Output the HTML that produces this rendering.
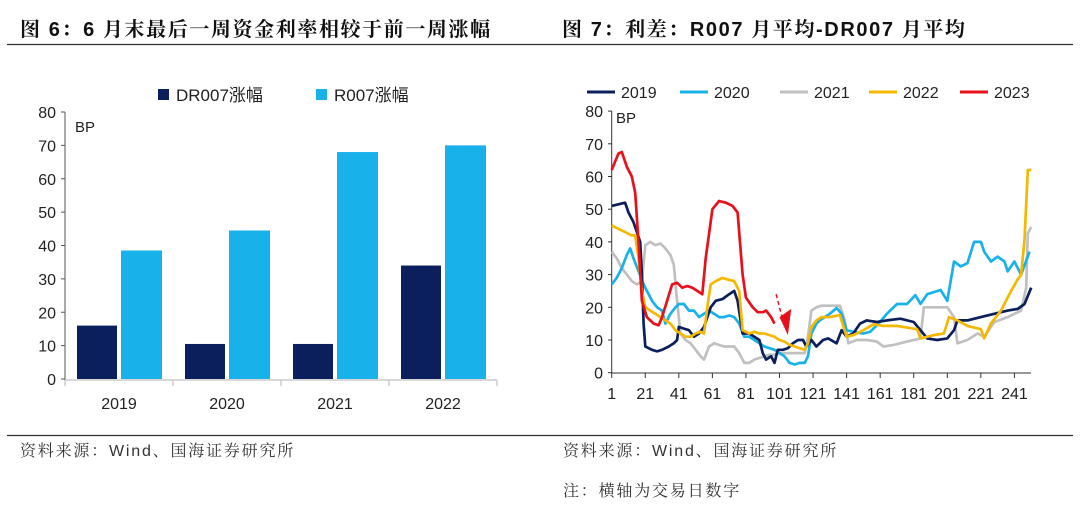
<!DOCTYPE html>
<html><head><meta charset="utf-8">
<style>
body{margin:0;width:1080px;height:506px;background:#fff;overflow:hidden;font-family:"Liberation Sans","Noto Sans CJK SC",sans-serif;}
svg text{font-family:"Liberation Sans","Noto Sans CJK SC",sans-serif;}
svg text.ttl{font-family:"Liberation Sans","Noto Serif CJK SC",serif;font-weight:bold;letter-spacing:1.6px;}
svg text.ft{font-family:"Liberation Sans","Noto Serif CJK SC",serif;letter-spacing:1.8px;}
</style></head>
<body>
<svg id="s" width="1080" height="506" xmlns="http://www.w3.org/2000/svg">
<text class="ttl" x="20" y="36" font-size="20" fill="#111">图 6：6 月末最后一周资金利率相较于前一周涨幅</text>
<text class="ttl" x="562" y="36" font-size="20" fill="#111">图 7：利差：R007 月平均-DR007 月平均</text>
<line x1="7" y1="44.5" x2="1073" y2="44.5" stroke="#333" stroke-width="1.3"/>
<line x1="7" y1="435.5" x2="1073" y2="435.5" stroke="#333" stroke-width="1.3"/>
<text class="ft" x="20" y="456" font-size="16" fill="#333">资料来源：Wind、国海证券研究所</text>
<text class="ft" x="563" y="456" font-size="16" fill="#333">资料来源：Wind、国海证券研究所</text>
<text class="ft" x="563" y="496" font-size="16" fill="#333">注：横轴为交易日数字</text>
<g id="left"></g>
<g id="right"></g>
</svg>
<script>
const NS="http://www.w3.org/2000/svg";
function mk(p,t,a){const e=document.createElementNS(NS,t);for(const k in a)e.setAttribute(k,a[k]);p.appendChild(e);return e;}

// ---- Left bar chart data ----
const barCategories=["2019","2020","2021","2022"];
const drValues=[16,10.5,10.5,34];
const rValues=[38.5,44.5,68,70];
const leftTicks=[0,10,20,30,40,50,60,70,80];

const L=document.getElementById('left');
const ly=v=>379-v*(267/80);
const lx0=65,cw=108;
leftTicks.forEach(t=>{
  const tx=mk(L,'text',{x:56,y:ly(t)+6,'font-size':16,'text-anchor':'end',fill:'#222'});tx.textContent=t;
  
  
  mk(L,'line',{x1:61,x2:65,y1:ly(t),y2:ly(t),stroke:'#555'});
});
const lax=mk(L,'line',{x1:65,x2:65,y1:ly(80),y2:380,stroke:'#555'});


const lxa=mk(L,'line',{x1:65,x2:497,y1:380,y2:380,stroke:'#ccc','stroke-width':1.5});


const bp=mk(L,'text',{x:75,y:132,'font-size':15,fill:'#222'});bp.textContent='BP';


barCategories.forEach((c,i)=>{
  const x=lx0+i*cw;
  mk(L,'line',{x1:x,x2:x,y1:380,y2:386,stroke:'#ccc','stroke-width':1.5});
  const b1=mk(L,'rect',{x:x+12,y:ly(drValues[i]),width:40,height:379-ly(drValues[i]),fill:'#0b1f5c'});
  
  
  const b2=mk(L,'rect',{x:x+56,y:ly(rValues[i]),width:41,height:379-ly(rValues[i]),fill:'#19b1ea'});
  
  
  const t=mk(L,'text',{x:x+cw/2,y:409,'font-size':16,'text-anchor':'middle',fill:'#222'});t.textContent=c;
  
  
});
mk(L,'line',{x1:497,x2:497,y1:380,y2:386,stroke:'#ccc','stroke-width':1.5});
[[158,'#0b1f5c','DR007涨幅'],[316,'#19b1ea','R007涨幅']].forEach(([x,c,s])=>{
  const g=mk(L,'g',{});
  
  
  mk(g,'rect',{x:x,y:89,width:11,height:11,fill:c});
  const t=mk(g,'text',{x:x+18,y:101,'font-size':17,fill:'#222'});t.textContent=s;
});

// ---- Right line chart data ----
const xTicks=[1,21,41,61,81,101,121,141,161,181,201,221,241];
const yTicks=[0,10,20,30,40,50,60,70,80];
const d2019=[1,5,9,11,14,16,18,19,20,21,25,28,31,35,38,40,41,44,47,50,53,56,60,63,67,71,74,76,79,83,86,89,91,93,96,98,100,103,106,109,112,115,117,120,123,127,130,135,138,141,145,149,153,159,165,173,181,185,189,195,201,205,207,213,221,229,237,243,247,251];
const v2019=[51,51.5,52,49,46,43,40,30,15,8,7,6.5,7,8,9,10,14,13.5,13,11,12,14,20,22,22.5,24,25,22,12,12,11,10,6,4,5,3,7,7,7.5,9,10,10,8,10,8,10,10.5,9,13,11,12,15,16,15.5,16,16.5,15.5,13,10.5,10,10.5,13,16,16,17,18,19,19.5,21,26];
const d2020=[1,4,7,10,12,14,17,20,22,25,28,31,33,36,39,41,44,47,50,53,56,59,62,65,68,71,74,77,80,83,86,89,92,95,98,101,104,107,110,113,116,118,120,123,125,131,135,138,141,145,151,155,160,165,171,177,182,185,189,197,201,205,209,213,217,221,223,227,231,235,237,241,245,250];
const v2020=[27,29,32,36,38,35,31,27,25,22,20,19,15,18,20,21,21,19,19,17,18,19,18,17,17,17.5,17,15,11,11,10,9,8,7.5,7,6,5,3,2.5,3,3,5,12,15,16,18,19.8,18,13,12.5,12,12.5,15,18,21,21,23.7,21,24,25.3,22,34,32.5,33.5,40,40,37,34,35.5,34,31,34,30,37];
const d2021=[1,4,7,10,13,16,19,21,24,27,30,33,36,38,40,42,45,48,51,54,56,59,62,65,68,71,74,77,80,83,86,89,92,95,98,101,104,107,110,113,116,118,120,123,126,137,140,142,147,153,159,163,169,177,185,187,193,201,205,207,213,219,223,229,237,245,248,249,251];
const v2021=[37,35,32,30,28,27,28,39,40,39,39.5,38,36,33,22,12,10,9,7,5,4,8,9,8.5,8,8,8,6,3,3,4,4.5,5,5.5,5.5,6,6,6,6,6,6,11,19,20,20.5,20.5,16,9,10,10,9.5,8,8.5,9.5,10.5,20,20,20,17,9,10,12,11,15.5,17,19,26,42.6,44.6];
const d2022=[1,5,9,13,15,17,19,21,24,27,30,33,36,39,42,45,48,51,54,56,58,60,63,67,70,74,77,79,83,86,89,92,95,98,101,104,107,110,113,116,118,120,123,126,131,137,141,145,151,157,163,171,177,183,185,193,199,202,207,213,221,223,227,233,239,243,245,247,249,251];
const v2022=[45,44,43,42,42,35,25,20,19,18,17,16,15,13,12,11,11,12,12.5,12,20,27,28,29,28.5,28,25,13,12,12.5,12,12,11.5,11,10,9.5,8.5,8,7.5,7,9,14,16,17,17,17.6,11,11.5,13,14.8,14.3,14.3,13.8,13.3,10.5,11.5,12,17,16,14.3,13.3,10.5,15,19,25,28.6,29.9,40.6,62,62];
const d2023=[1,5,7,10,13,15,17,19,22,26,29,31,34,37,40,43,46,49,52,55,57,61,65,69,73,76,79,81,85,88,91,93,96,98];
const v2023=[62,67,67.5,63,60,55,40,22,17,15,14.5,17,22,27,27.5,26,26.5,26,25,24,35,50,52.5,52,51,49,30,23,20,18.5,18.5,19,17,15];

const R=document.getElementById('right');
const rx=d=>611.7+(d-1)*1.678;
const ry=v=>372.7-v*3.27;
yTicks.forEach(t=>{
  const tx=mk(R,'text',{x:603,y:ry(t)+6,'font-size':16,'text-anchor':'end',fill:'#222'});tx.textContent=t;
  
  
  mk(R,'line',{x1:608,x2:612,y1:ry(t),y2:ry(t),stroke:'#333'});
});
xTicks.forEach(t=>{
  mk(R,'line',{x1:rx(t),x2:rx(t),y1:373,y2:378,stroke:'#333'});
  const tx=mk(R,'text',{x:rx(t),y:399,'font-size':16,'text-anchor':'middle',fill:'#222'});tx.textContent=t;
  
  
});
const ya=mk(R,'line',{x1:611.7,x2:611.7,y1:ry(80),y2:373,stroke:'#333'});


const xa=mk(R,'line',{x1:611.7,x2:1031,y1:373,y2:373,stroke:'#333'});


const bp2=mk(R,'text',{x:616,y:123,'font-size':15,fill:'#222'});bp2.textContent='BP';


const series=[['2021',d2021,v2021,'#c0c0c0'],['2020',d2020,v2020,'#19b1ea'],['2019',d2019,v2019,'#0b1f5c'],['2022',d2022,v2022,'#f5b800'],['2023',d2023,v2023,'#e8101a']];
series.forEach(([n,ds,vs,c])=>{
  const pts=ds.map((d,i)=>rx(d).toFixed(1)+','+ry(vs[i]).toFixed(1)).join(' ');
  const pl=mk(R,'polyline',{points:pts,fill:'none',stroke:c,'stroke-width':2.7,'stroke-linejoin':'round'});
  
  
});
const ar=mk(R,'g',{});


mk(ar,'line',{x1:rx(99),y1:ry(24),x2:rx(103),y2:ry(16),stroke:'#e8101a','stroke-width':1.5,'stroke-dasharray':'4,3'});
mk(ar,'polygon',{points:`${rx(101)},${ry(17)} ${rx(108)},${ry(19.5)} ${rx(106)},${ry(11.5)}`,fill:'#e8101a'});
const leg=[['2019','#0b1f5c',587],['2020','#19b1ea',680],['2021','#c0c0c0',780],['2022','#f5b800',869],['2023','#e8101a',960]];
leg.forEach(([n,c,x])=>{
  const g=mk(R,'g',{});
  
  
  mk(g,'line',{x1:x,x2:x+28,y1:92,y2:92,stroke:c,'stroke-width':3});
  const t=mk(g,'text',{x:x+34,y:98,'font-size':16,fill:'#222'});t.textContent=n;
});
</script>
</body></html>
